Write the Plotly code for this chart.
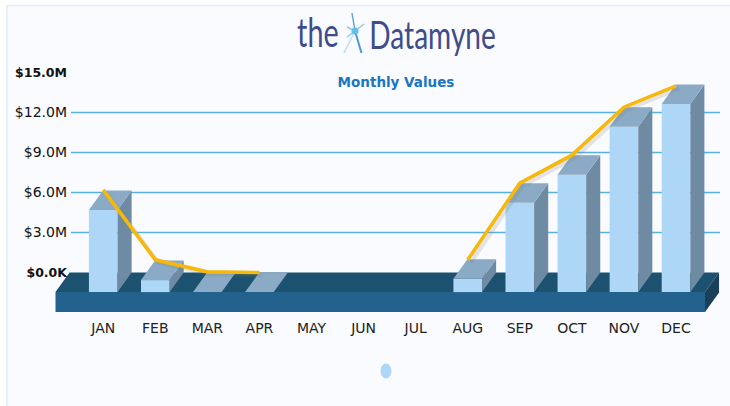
import plotly.graph_objects as go

months = ["JAN", "FEB", "MAR", "APR", "MAY", "JUN", "JUL", "AUG", "SEP", "OCT", "NOV", "DEC"]
bar_values = [6.15, 0.9, 0.0, 0.0, None, None, None, 1.0, 6.7, 8.8, 12.4, 14.1]
line_values = [6.2, 0.95, 0.05, 0.0, None, None, None, 0.95, 6.7, 8.8, 12.4, 14.0]
y_ticks = [0, 3, 6, 9, 12, 15]
bold = '<span style="font-size:12.5px"><b>%s</b></span>'
y_labels = [bold % "$0.0K", "$3.0M", "$6.0M", "$9.0M", "$12.0M", bold % "$15.0M"]
grid_values = [3, 6, 9, 12]

W, H = 730, 406
BAR_W = 0.55
DX = 0.27      # extrusion, category units
DY = 1.47      # extrusion, value units
SLAB = 1.5     # slab thickness, value units
SLAB_L, SLAB_R = -0.917, 11.557
PX_X = 52.07
PX_Y = 40 / 3
x0_px, y0_px = 103.25, 272.5
L, R, T, B = 55, 722, 60, 314
x_range = [(L - x0_px) / PX_X, (R - x0_px) / PX_X]
y_range = [(y0_px - B) / PX_Y, (y0_px - T) / PX_Y]


def poly(pts, color):
    path = "M" + "L".join(f"{a},{b}" for a, b in pts) + "Z"
    return dict(type="path", path=path, xref="x", yref="y", fillcolor=color,
                line=dict(width=0), layer="below")


def ray(x1, y1, color, width):
    return dict(type="line", xref="paper", yref="paper", x0=355 / W, y0=1 - 31 / H, x1=x1 / W, y1=1 - y1 / H,
                line=dict(color=color, width=width))


shapes = [
    dict(type="rect", xref="paper", yref="paper", x0=7 / W, x1=1.01, y0=-0.01, y1=1 - 5.5 / H,
         fillcolor="#fafbfe", line=dict(color="#e2edf8", width=1.5), layer="below"),
]
for g in grid_values:
    shapes.append(dict(type="line", xref="x", yref="y", x0=(71 - x0_px) / PX_X, x1=(720 - x0_px) / PX_X,
                       y0=g, y1=g, line=dict(color="#58b0e0", width=1.5), layer="below"))
shapes += [
    poly([(SLAB_L, -DY), (SLAB_L + DX, 0), (SLAB_R + DX, 0), (SLAB_R, -DY)], "#1c5270"),
    poly([(SLAB_L, -DY), (SLAB_R, -DY), (SLAB_R, -DY - SLAB), (SLAB_L, -DY - SLAB)], "#22628c"),
    poly([(SLAB_R, -DY), (SLAB_R + DX, 0), (SLAB_R + DX, -SLAB), (SLAB_R, -DY - SLAB)], "#1a3f58"),
    dict(type="circle", xref="paper", yref="paper", x0=380.5 / W, x1=391.5 / W,
         y0=1 - 378.5 / H, y1=1 - 363.5 / H, fillcolor="#aed6f7", line=dict(width=0)),
    ray(352, 13, "#5fa9d2", 1.5),
    ray(361.5, 53, "#4a9cc8", 2),
    ray(344, 53, "#bfe0f0", 1.5),
    ray(364, 24, "#8ccbe8", 1.5),
    ray(347, 27, "#8ccbe8", 1.5),
    ray(347, 37, "#8ccbe8", 1.5),
    dict(type="circle", xref="paper", yref="paper", x0=351.5 / W, x1=358.5 / W,
         y0=1 - 34.5 / H, y1=1 - 27.5 / H, fillcolor="#62c0ea", line=dict(width=0)),
]

side_x, side_y, top_x, top_y = [], [], [], []
for i, v in enumerate(bar_values):
    if v is None:
        continue
    a, b = i - BAR_W / 2, i + BAR_W / 2
    f = v - DY
    top_x += [a, a + DX, b + DX, b, a, None]
    top_y += [f, v, v, f, f, None]
    if v > 0:
        side_x += [b, b + DX, b + DX, b, b, None]
        side_y += [f, v, 0, -DY, f, None]

fig = go.Figure()
fig.add_trace(go.Bar(x=list(range(12)), y=bar_values, base=-DY, width=BAR_W,
                     marker=dict(color="#aed6f7", line=dict(width=0))))
fig.add_trace(go.Scatter(x=side_x, y=side_y, mode="lines", fill="toself", fillcolor="#6f8ba3",
                         line=dict(width=0)))
fig.add_trace(go.Scatter(x=top_x, y=top_y, mode="lines", fill="toself", fillcolor="#8aaac5",
                         line=dict(width=0)))
fig.add_trace(go.Scatter(x=[i + 0.06 for i in range(12)], y=[None if v is None else v - 0.2 for v in line_values],
                         mode="lines", line=dict(color="rgba(120,120,120,0.18)", width=4)))
fig.add_trace(go.Scatter(x=list(range(12)), y=line_values, mode="lines",
                         line=dict(color="#f5b80b", width=3.6)))

logo = "#3f4c88"
annotations = [
    dict(text="the", x=318 / W, y=1 - 32 / H, font=dict(family="Lato", size=40, color=logo)),
    dict(text="Datamyne", x=433 / W, y=1 - 34 / H, font=dict(family="Lato", size=38, color=logo)),
]
for a in annotations:
    a.update(xref="paper", yref="paper", xanchor="center", yanchor="middle", showarrow=False)

fig.update_layout(
    width=W, height=H, showlegend=False, hovermode=False,
    paper_bgcolor="white", plot_bgcolor="rgba(0,0,0,0)",
    margin=dict(l=0, r=0, t=0, b=0, pad=0),
    title=dict(text="<b>Monthly Values</b>", x=396 / W, xref="container", xanchor="center",
               y=1 - 82 / H, yref="container", yanchor="middle",
               font=dict(family="DejaVu Sans", size=13.5, color="#1a76c0")),
    shapes=shapes, annotations=annotations, barmode="overlay",
    xaxis=dict(domain=[L / W, R / W], range=x_range, tickmode="array", tickvals=list(range(12)),
               ticktext=months, showgrid=False, zeroline=False, showline=False,
               ticks="outside", ticklen=1, tickcolor="rgba(0,0,0,0)",
               tickfont=dict(family="DejaVu Sans", size=14, color="#222222")),
    yaxis=dict(domain=[1 - B / H, 1 - T / H], range=y_range, tickmode="array", tickvals=y_ticks, ticktext=y_labels,
               anchor="free", position=67 / W, showgrid=False, zeroline=False, showline=False, ticks="",
               tickfont=dict(family="DejaVu Sans", size=14, color="#111111")),
)
squeeze = """
document.body.style.margin='0';
document.querySelectorAll('.annotation-text').forEach(function(t){
  var cx = parseFloat(t.getAttribute('x'));
  var k = t.textContent === 'the' ? 0.72 : 0.74;
  t.setAttribute('transform', 'translate('+cx+',0) scale('+k+',1) translate('+(-cx)+',0)');
});
"""
fig.write_html("out.html", config=dict(displayModeBar=False), post_script=squeeze)
